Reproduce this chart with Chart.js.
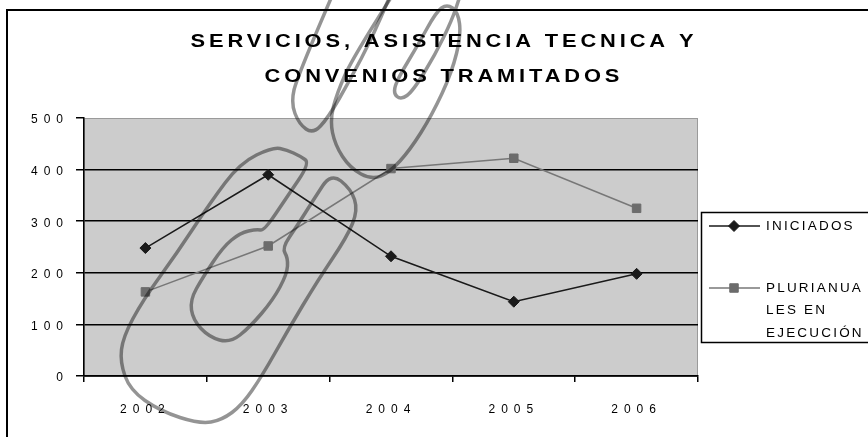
<!DOCTYPE html>
<html>
<head>
<meta charset="utf-8">
<title>Servicios, asistencia tecnica y convenios tramitados</title>
<script src="https://cdn.jsdelivr.net/npm/chart.js@4/dist/chart.umd.min.js"></script>
<style>
  body { margin: 0; background: #fff; }
  canvas { display: block; }
</style>
</head>
<body>
<canvas id="chart" width="868" height="437"></canvas>
<script>
var years = ['2002', '2003', '2004', '2005', '2006'];
var iniciados = [248, 390, 232, 144, 198];
var plurianuales = [163, 252, 402, 422, 325];
var yTicks = [0, 100, 200, 300, 400, 500];
var titleLines = ['SERVICIOS, ASISTENCIA TECNICA Y', 'CONVENIOS TRAMITADOS'];
var seriesNames = ['INICIADOS', 'PLURIANUALES EN EJECUCIÓN'];
var legendLines = [['INICIADOS'], ['PLURIANUA', 'LES EN', 'EJECUCIÓN']];

var FONT = '"Liberation Sans", Arial, sans-serif';

// paperclip outlines lying on top of the sheet
var clipLower = [
  [273, 147], [240, 163], [210, 203], [177, 253], [143, 300], [123, 337], [120, 362],
  [130, 390], [160, 411], [200, 424], [222, 420], [242, 405], [262, 376], [288, 330],
  [318, 280], [347, 237], [358, 210], [351, 189], [331, 173], [314, 199], [297, 226],
  [282, 248], [288, 258], [287, 274], [273, 300], [250, 327], [230, 343], [209, 337],
  [193, 320], [190, 300], [203, 277], [223, 247], [240, 233], [257, 229], [264, 231],
  [287, 197], [310, 163], [300, 156], [287, 150]
];
var clipUpperLeft = [
  [332, -4], [297, 77], [291, 103], [299, 124], [313, 134], [328, 118], [350, 80],
  [372, 38], [390, -4]
];
var clipUpperRight = [
  [392, -4], [353, 57], [337, 93], [330, 120], [335, 145], [350, 168], [372, 180],
  [390, 172], [410, 150], [432, 115], [452, 72], [461, 35], [458, 12], [447, 4],
  [436, 12], [418, 45], [398, 78], [393, 93], [401, 100], [413, 91], [435, 55],
  [452, 20], [460, -4]
];

function smoothPath(ctx, pts, closed) {
  var n = pts.length;
  function mid(a, b) { return [(a[0] + b[0]) / 2, (a[1] + b[1]) / 2]; }
  ctx.beginPath();
  if (closed) {
    var start = mid(pts[n - 1], pts[0]);
    ctx.moveTo(start[0], start[1]);
    for (var i = 0; i < n; i++) {
      var m = mid(pts[i], pts[(i + 1) % n]);
      ctx.quadraticCurveTo(pts[i][0], pts[i][1], m[0], m[1]);
    }
    ctx.closePath();
  } else {
    ctx.moveTo(pts[0][0], pts[0][1]);
    for (var j = 1; j < n - 1; j++) {
      var mm = mid(pts[j], pts[j + 1]);
      ctx.quadraticCurveTo(pts[j][0], pts[j][1], mm[0], mm[1]);
    }
    ctx.lineTo(pts[n - 1][0], pts[n - 1][1]);
  }
  ctx.stroke();
}

// wide, spaced-out heading; the spacing is chosen so line one spans `span` px
function drawTitle(ctx, lines, cx, ys, span) {
  var sx = 1.15;
  ctx.save();
  ctx.font = 'bold 19px ' + FONT;
  ctx.fillStyle = '#000';
  ctx.textAlign = 'left';
  ctx.textBaseline = 'middle';
  ctx.letterSpacing = '0px';
  var w0 = ctx.measureText(lines[0]).width;
  var ls = (span / sx - w0) / (lines[0].length - 1);
  ctx.letterSpacing = ls + 'px';
  lines.forEach(function (line, i) {
    var w = ctx.measureText(line).width - ls;
    ctx.save();
    ctx.translate(cx - (w * sx) / 2, ys[i]);
    ctx.scale(sx, 1);
    ctx.fillText(line, 0, 0);
    ctx.restore();
  });
  ctx.restore();
}

var sheetPlugin = {
  id: 'sheet',
  beforeDraw: function (chart) {
    var ctx = chart.ctx;
    var a = chart.chartArea;
    ctx.save();
    // outer frame
    ctx.strokeStyle = '#000';
    ctx.lineWidth = 2;
    ctx.strokeRect(7, 10, 880, 450);
    // grey plot area
    ctx.fillStyle = '#cccccc';
    ctx.fillRect(a.left, a.top, a.right - a.left, a.bottom - a.top);
    ctx.strokeStyle = '#9a9a9a';
    ctx.lineWidth = 1;
    ctx.strokeRect(a.left + 0.5, a.top + 0.5, a.right - a.left - 1, a.bottom - a.top);
    ctx.restore();
    // spaced lettering for the axis labels
    ctx.letterSpacing = '6px';
  },
  afterDraw: function (chart) {
    var ctx = chart.ctx;
    ctx.save();

    drawTitle(ctx, titleLines, 442, [42, 77], 503);

    // legend
    ctx.letterSpacing = '0px';
    ctx.strokeStyle = '#000';
    ctx.lineWidth = 1.5;
    ctx.strokeRect(701.5, 212.5, 200, 130);
    var rowsY = [226, 288];
    chart.data.datasets.forEach(function (ds, i) {
      var y = rowsY[i];
      ctx.strokeStyle = ds.borderColor;
      ctx.lineWidth = ds.borderWidth;
      ctx.beginPath();
      ctx.moveTo(709, y);
      ctx.lineTo(760, y);
      ctx.stroke();
      ctx.fillStyle = ds.pointBackgroundColor;
      ctx.strokeStyle = ds.pointBorderColor;
      ctx.lineWidth = 1;
      Chart.helpers.drawPoint(ctx, { pointStyle: ds.pointStyle, radius: ds.pointRadius, borderWidth: 1 }, 734, y);
      ctx.letterSpacing = '2.2px';
      ctx.fillStyle = '#000';
      ctx.font = '13.5px ' + FONT;
      ctx.textAlign = 'left';
      ctx.textBaseline = 'middle';
      legendLines[i].forEach(function (line, k) {
        ctx.fillText(line, 766, y + k * 22.5);
      });
      ctx.letterSpacing = '0px';
    });

    // paperclips
    ctx.strokeStyle = 'rgba(0,0,0,0.42)';
    ctx.lineWidth = 3.5;
    ctx.lineJoin = 'round';
    ctx.lineCap = 'round';
    smoothPath(ctx, clipLower, true);
    smoothPath(ctx, clipUpperLeft, false);
    smoothPath(ctx, clipUpperRight, false);

    ctx.restore();
  }
};

var ctx = document.getElementById('chart').getContext('2d');
new Chart(ctx, {
  type: 'line',
  data: {
    labels: years,
    datasets: [
      {
        label: seriesNames[0],
        data: iniciados,
        borderColor: '#1a1a1a',
        backgroundColor: '#1a1a1a',
        pointBackgroundColor: '#1a1a1a',
        pointBorderColor: '#1a1a1a',
        borderWidth: 1.5,
        pointStyle: 'rectRot',
        pointRadius: 5.5,
        pointBorderWidth: 1,
        tension: 0
      },
      {
        label: seriesNames[1],
        data: plurianuales,
        borderColor: '#777777',
        backgroundColor: '#6c6c6c',
        pointBackgroundColor: '#6c6c6c',
        pointBorderColor: '#6c6c6c',
        borderWidth: 1.5,
        pointStyle: 'rect',
        pointRadius: 6,
        pointBorderWidth: 1,
        tension: 0
      }
    ]
  },
  options: {
    responsive: false,
    animation: false,
    events: [],
    layout: { padding: { left: 0, right: 170, top: 118, bottom: 0 } },
    plugins: {
      legend: { display: false },
      title: { display: false },
      tooltip: { enabled: false }
    },
    scales: {
      x: {
        offset: true,
        grid: {
          offset: true,
          drawOnChartArea: false,
          color: '#000',
          lineWidth: 1.5,
          tickLength: 6
        },
        border: { color: '#000', width: 1.5 },
        ticks: {
          color: '#000',
          font: { family: FONT, size: 12 },
          padding: 20,
          maxRotation: 0
        },
        afterFit: function (scale) { scale.height = 61; }
      },
      y: {
        min: 0,
        max: 500,
        afterBuildTicks: function (scale) {
          scale.ticks = yTicks.map(function (v) { return { value: v }; });
        },
        grid: {
          color: function (c) {
            return c.tick && c.tick.value === 500 ? 'rgba(0,0,0,0)' : '#000';
          },
          tickColor: '#000',
          lineWidth: 1.5,
          tickLength: 8
        },
        border: { color: '#000', width: 1.5 },
        ticks: {
          color: '#000',
          font: { family: FONT, size: 12 },
          padding: 7,
          labelOffset: 2
        },
        afterFit: function (scale) { scale.width = 84; }
      }
    }
  },
  plugins: [sheetPlugin]
});
</script>
</body>
</html>
